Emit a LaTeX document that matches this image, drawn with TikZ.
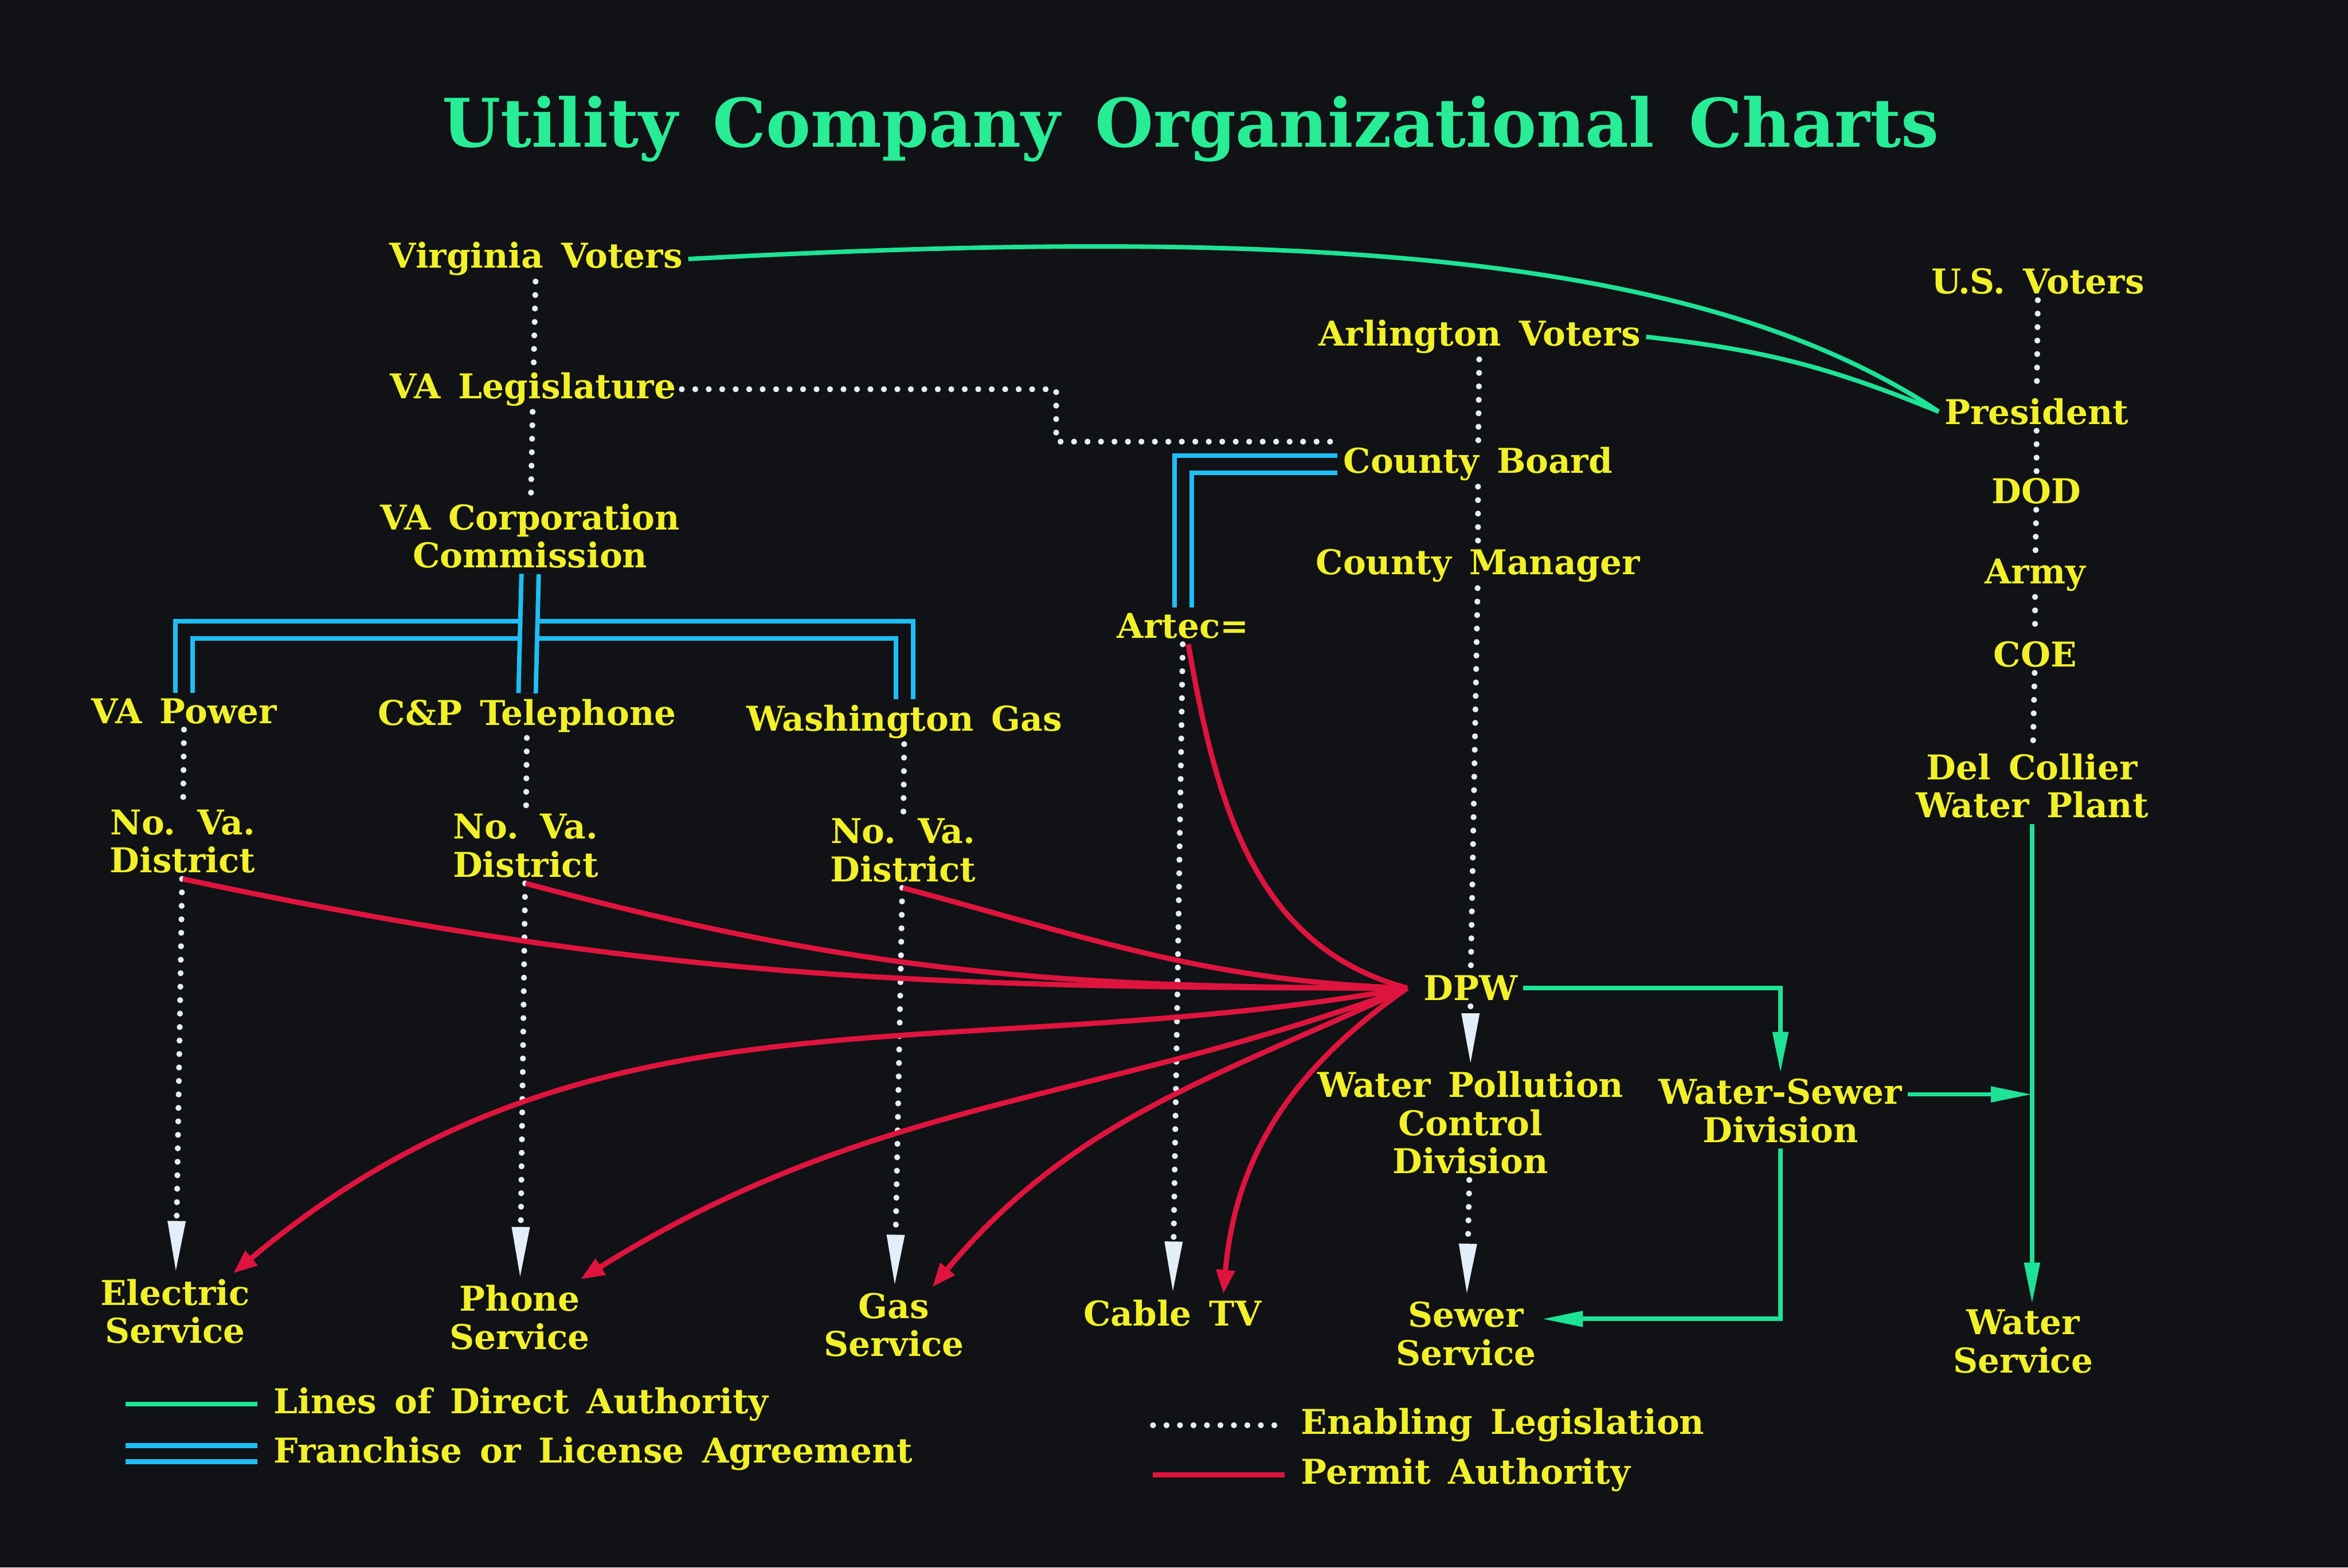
\documentclass[tikz,border=0pt]{standalone}
\usepackage{fontspec}
\newfontfamily\chartfont[WordSpace=1.5]{DejaVu Serif}
\usetikzlibrary{arrows.meta, positioning}
\definecolor{slidebg}{RGB}{16,18,21}
\definecolor{labelyellow}{RGB}{242,240,40}
\definecolor{authgreen}{RGB}{30,226,150}
\definecolor{titlegreen}{RGB}{40,236,150}
\definecolor{franchblue}{RGB}{30,190,245}
\definecolor{permitred}{RGB}{222,20,62}
\definecolor{dotwhite}{RGB}{228,238,248}

\begin{document}
\begin{tikzpicture}[
  x=0.02cm, y=0.02cm,
  unit/.style      = {text=labelyellow, align=center, inner sep=2pt,
                      font=\chartfont\bfseries\fontsize{13}{14.5}\selectfont},
  keytext/.style   = {unit, anchor=west},
  auth/.style      = {authgreen, line width=0.06cm},
  authto/.style    = {auth, -{Triangle[length=0.55cm, width=0.2cm]}},
  franchise/.style = {franchblue, line width=0.06cm, double=slidebg,
                      double distance=0.17cm},
  enable/.style    = {dotwhite, line width=0.08cm, line cap=round,
                      dash pattern=on 0pt off 0.18cm},
  enableto/.style  = {enable, -{Triangle[length=0.7cm, width=0.22cm]}},
  permit/.style    = {permitred, line width=0.07cm},
  permitto/.style  = {permit, -{Triangle[length=0.32cm, width=0.24cm]}},
]
  \fill[slidebg] (0,0) rectangle (1568,-1047);
  \useasboundingbox (0,0) rectangle (1568,-1047);

  \node[unit, text=titlegreen, font=\chartfont\bfseries\fontsize{25.5}{30}\selectfont]
    (title) at (795,-86) {Utility Company Organizational Charts};

  % state side
  \node[unit] (vavoters) at (358,-173) {Virginia Voters};
  \node[unit] (valeg)    at (356,-260) {VA Legislature};
  \node[unit] (vacorp)   at (354,-358) {VA Corporation\\Commission};
  \node[unit] (vapower)  at (123,-475) {VA Power};
  \node[unit] (cptel)    at (352,-478) {C\&P Telephone};
  \node[unit] (wagas)    at (604,-482) {Washington Gas};
  \node[unit] (dist1)    at (122,-562) {No. Va.\\District};
  \node[unit] (dist2)    at (351,-565) {No. Va.\\District};
  \node[unit] (dist3)    at (603,-568) {No. Va.\\District};
  \node[unit] (elec)     at (117,-876) {Electric\\Service};
  \node[unit] (phone)    at (347,-880) {Phone\\Service};
  \node[unit] (gas)      at (597,-885) {Gas\\Service};

  % county side
  \node[unit] (artec)     at (790,-418)  {Artec=};
  \node[unit] (cable)     at (783,-877)  {Cable TV};
  \node[unit] (arlvoters) at (988,-225)  {Arlington Voters};
  \node[unit] (cboard)    at (987,-310)  {County Board};
  \node[unit] (cmanager)  at (987,-378)  {County Manager};
  \node[unit] (dpw)       at (982,-660)  {DPW};
  \node[unit] (wpcd)      at (982,-750)  {Water Pollution\\Control\\Division};
  \node[unit] (wsd)       at (1189,-742) {Water-Sewer\\Division};
  \node[unit] (sewer)     at (979,-891)  {Sewer\\Service};

  % federal side
  \node[unit] (usvoters)  at (1361,-188) {U.S. Voters};
  \node[unit] (president) at (1360,-275) {President};
  \node[unit] (dod)       at (1360,-328) {DOD};
  \node[unit] (army)      at (1359,-384) {Army};
  \node[unit] (coe)       at (1359,-437) {COE};
  \node[unit] (dcwp)      at (1357,-525) {Del Collier\\Water Plant};
  \node[unit] (water)     at (1351,-896) {Water\\Service};

  % enabling legislation
  \foreach \a/\b in {vavoters/valeg, valeg/vacorp, vapower/dist1, cptel/dist2,
                     wagas/dist3, arlvoters/cboard, cboard/cmanager, cmanager/dpw,
                     usvoters/president, president/dod, dod/army, army/coe, coe/dcwp}
    \draw[enable] (\a) -- (\b);
  \foreach \a/\b in {dist1/elec, dist2/phone, dist3/gas, artec/cable,
                     dpw/wpcd, wpcd/sewer}
    \draw[enableto] (\a) -- (\b);
  \draw[enable] (valeg.east) -- ++(250,0) |- ([yshift=0.3cm]cboard.west);

  % franchise or license
  \draw[franchise] (vapower.north) -- ++(0,42) -| (wagas.north);
  \draw[franchise] (vacorp.south) -- (cptel.north);
  \draw[franchise] (cboard.west) -| (artec.north);

  % direct authority
  \draw[auth] (vavoters.east) .. controls (850,-152) and (1130,-165) .. (president.west);
  \draw[auth] (arlvoters.east) to[bend left=8] (president.west);
  \draw[authto] (dpw.east) -| (wsd.north);
  \draw[authto] ([yshift=0.22cm]wsd.east) -- ([yshift=0.22cm]wsd.east -| dcwp.south);
  \draw[authto] (wsd.south) |- ([yshift=0.2cm]sewer.east);
  \draw[authto] (dcwp.south) -- (dcwp.south |- water.north);

  % permit authority
  \draw[permit] (dist1.south) to[out=-12, in=180] ([xshift=-4pt]dpw.west);
  \draw[permit] (dist2.south) to[out=-15, in=180] ([xshift=-4pt]dpw.west);
  \draw[permit] (dist3.south) to[out=-15, in=178] ([xshift=-4pt]dpw.west);
  \draw[permit] ([xshift=2pt]artec.south) to[out=-80, in=165] ([xshift=-4pt]dpw.west);
  \draw[permitto] ([xshift=-4pt]dpw.west) to[out=190, in=40] ([xshift=-0.3cm]elec.north east);
  \draw[permitto] ([xshift=-4pt]dpw.west) to[out=200, in=32] ([xshift=-0.2cm]phone.north east);
  \draw[permitto] ([xshift=-4pt]dpw.west) to[out=205, in=50] ([xshift=-0.5cm]gas.north east);
  \draw[permitto] ([xshift=-4pt]dpw.west) to[out=215, in=85] ([xshift=0.68cm]cable.north);

  % legend
  \coordinate (authL) at (84,-938);  \coordinate (authR) at (172,-938);
  \coordinate (franL) at (84,-971);  \coordinate (franR) at (172,-971);
  \coordinate (enabL) at (770,-952); \coordinate (enabR) at (858,-952);
  \coordinate (permL) at (770,-985); \coordinate (permR) at (858,-985);
  \draw[auth] (authL) -- (authR);
  \draw[franchise, double distance=0.14cm, line width=0.07cm] (franL) -- (franR);
  \draw[enable] (enabL) -- (enabR);
  \draw[permit] (permL) -- (permR);
  \node[keytext, right=4pt of authR] (keyauth) {Lines of Direct Authority};
  \node[keytext, right=4pt of franR] (keyfran) {Franchise or License Agreement};
  \node[keytext, right=4pt of enabR] (keyenab) {Enabling Legislation};
  \node[keytext, right=4pt of permR] (keyperm) {Permit Authority};
\end{tikzpicture}
\end{document}
